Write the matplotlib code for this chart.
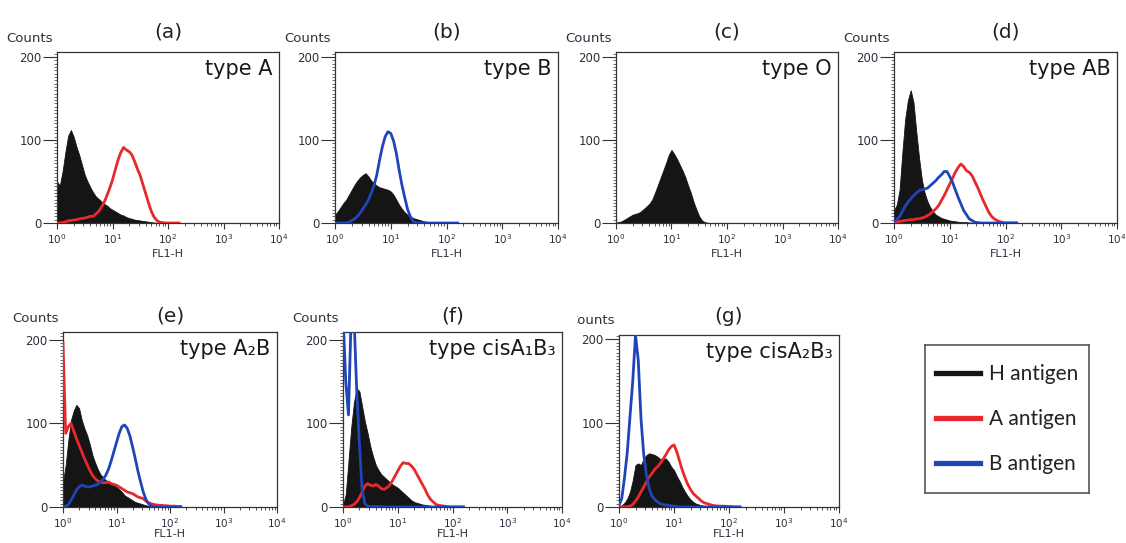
import numpy as np
import matplotlib
matplotlib.use("Agg")
from matplotlib import pyplot as plt
from matplotlib.ticker import LogLocator, MultipleLocator, NullFormatter
from matplotlib.lines import Line2D
from matplotlib.transforms import Bbox, TransformedBbox

# channel positions in decades (10^0 .. 10^2.2), 0.05 decade bins
log_ch = np.arange(0, 2.21, 0.05)

# ---- counts (one value per bin) ----
a_H = [50, 45, 62, 85, 105, 112, 104, 92, 82, 70,
       58, 50, 43, 37, 32, 29, 26, 23, 21, 18,
       16, 14, 12, 10, 9, 7, 6, 5, 4, 3.5,
       3, 2.5, 2, 1.5, 1, 0.5, 0.3, 0, 0, 0,
       0, 0, 0, 0, 0]
a_A = [0, 0, 0.5, 1.5, 2.5, 3, 3.5, 4, 5, 5.5,
       6, 7, 8, 8, 11, 14, 19, 25, 33, 42,
       52, 64, 76, 85, 91, 88, 86, 82, 74, 65,
       57, 46, 35, 24, 14, 7, 3, 1, 0.5, 0,
       0, 0, 0, 0, 0]

b_H = [10, 14, 19, 24, 28, 34, 40, 46, 51, 55,
       58, 60, 56, 51, 48, 45, 43, 42, 41, 40,
       38, 34, 28, 22, 17, 13, 10, 8, 6, 5,
       4, 3, 2, 1.5, 1, 0.5, 0.3, 0, 0, 0,
       0, 0, 0, 0, 0]
b_B = [0, 0, 0, 0, 0, 1, 3, 5, 8, 12,
       17, 22, 28, 36, 45, 58, 76, 92, 104, 110,
       108, 99, 84, 64, 46, 31, 17, 8, 2, 0.5,
       0, 0, 0, 0, 0, 0, 0, 0, 0, 0,
       0, 0, 0, 0, 0]

c_H = [0.5, 1, 2, 4, 6, 8, 10, 11, 12, 14,
       17, 20, 23, 28, 36, 45, 54, 63, 72, 82,
       88, 83, 77, 70, 63, 55, 45, 36, 25, 16,
       8, 3, 1, 0.3, 0, 0, 0, 0, 0, 0,
       0, 0, 0, 0, 0]

d_H = [15, 22, 40, 85, 125, 148, 160, 145, 110, 78,
       52, 36, 26, 19, 14, 10, 8, 6, 5, 4,
       3, 2.5, 2, 1.5, 1.2, 1, 1, 0.6, 0.4, 0,
       0, 0, 0, 0, 0, 0, 0, 0, 0, 0,
       0, 0, 0, 0, 0]
d_A = [0.5, 1, 2, 2.5, 3, 3.5, 4, 4, 5, 5,
       6, 7, 9, 11, 14, 17, 21, 27, 33, 40,
       47, 54, 61, 67, 71, 68, 63, 61, 57, 50,
       43, 35, 27, 20, 13, 8, 5, 3, 1.5, 0.5,
       0, 0, 0, 0, 0]
d_B = [2, 4, 8, 14, 20, 25, 29, 33, 36, 39,
       40, 41, 42, 45, 48, 51, 55, 58, 62, 62,
       56, 49, 40, 31, 23, 15, 10, 5, 3, 1,
       0.5, 0, 0, 0, 0, 0, 0, 0, 0, 0,
       0, 0, 0, 0, 0]

e_H = [30, 50, 80, 104, 115, 122, 118, 104, 94, 86,
       75, 62, 53, 45, 39, 35, 32, 30, 28, 26,
       24, 21, 18, 14, 12, 10, 8, 6, 5, 4,
       3, 2, 1.5, 1, 0.5, 0, 0, 0, 0, 0,
       0, 0, 0, 0, 0]
e_A = [196, 88, 96, 100, 91, 82, 74, 66, 58, 51,
       44, 38, 34, 31, 30, 29, 29, 30, 28, 27,
       26, 24, 22, 20, 18, 17, 16, 14, 12, 11,
       10, 7, 5, 4, 3, 2.5, 2, 2, 1.5, 1.5,
       1, 1, 1, 0.5, 0.5]
e_B = [0, 1, 3, 8, 14, 20, 24, 26, 25, 24,
       24, 25, 26, 27, 30, 33, 38, 45, 55, 66,
       77, 88, 96, 98, 94, 85, 72, 58, 43, 30,
       18, 9, 4, 1.5, 0.5, 0, 0, 0, 0, 0,
       0, 0, 0, 0, 0]

f_H = [3, 15, 55, 95, 125, 142, 138, 120, 102, 88,
       72, 60, 50, 44, 39, 36, 33, 30, 27, 25,
       23, 20, 17, 14, 11, 8, 6, 5, 4, 3,
       2.5, 2, 1.5, 1.2, 1, 0.8, 0.5, 0, 0, 0,
       0, 0, 0, 0, 0]
f_A = [0, 0, 0.5, 1.5, 3, 6, 11, 18, 25, 28,
       26, 25, 27, 25, 22, 21, 23, 26, 31, 37,
       43, 49, 53, 52, 52, 49, 45, 39, 33, 27,
       21, 14, 9, 6, 3, 2, 1.5, 1, 0.5, 0,
       0, 0, 0, 0, 0]
f_B = [230, 150, 110, 230, 230, 140, 75, 20, 4, 1,
       0.5, 0.5, 0.5, 0.5, 0.5, 0, 0, 0, 0, 0,
       0, 0, 0, 0, 0, 0, 0, 0, 0, 0,
       0, 0, 0, 0, 0, 0, 0, 0, 0, 0,
       0, 0, 0, 0, 0]

g_H = [0, 2, 5, 10, 18, 32, 50, 52, 50, 58,
       62, 64, 63, 62, 60, 57, 57, 58, 54, 48,
       44, 37, 31, 24, 18, 13, 9, 6, 4, 3,
       2, 1.5, 1, 0.7, 0.3, 0, 0, 0, 0, 0,
       0, 0, 0, 0, 0]
g_A = [0, 0, 0, 0.5, 1, 3, 7, 12, 18, 24,
       30, 36, 40, 45, 48, 52, 57, 62, 68, 72,
       74, 66, 55, 44, 35, 27, 21, 16, 13, 10,
       7, 5, 4, 3, 2, 1.5, 1.2, 1, 1, 0.8,
       0.5, 0.3, 0, 0, 0]
g_B = [2, 10, 35, 65, 108, 150, 205, 175, 105, 62,
       38, 22, 13, 9, 6, 4, 3, 2.5, 2, 1.5,
       1, 0.5, 0, 0, 0, 0, 0, 0, 0, 0,
       0, 0, 0, 0, 0, 0, 0, 0, 0, 0,
       0, 0, 0, 0, 0]

panel_labels = ["(a)", "(b)", "(c)", "(d)", "(e)", "(f)", "(g)"]
type_labels = ["type A", "type B", "type O", "type AB",
               "type A\u2082B", "type cisA\u2081B\u2083", "type cisA\u2082B\u2083"]
H_series = [a_H, b_H, c_H, d_H, e_H, f_H, g_H]
A_series = [a_A, None, None, d_A, e_A, f_A, g_A]
B_series = [None, b_B, None, d_B, e_B, f_B, g_B]
legend_labels = ["H antigen", "A antigen", "B antigen"]

BLACK = "#151515"
RED = "#e8282c"
BLUE = "#1f45b8"
TXT = "#2e2e3e"

W, H = 1126, 543
# pixel boxes (left, right, top, bottom) and y-limit for each panel
boxes = [(57, 279, 52, 223), (335, 558, 52, 223), (616, 838, 52, 223),
         (894, 1117, 52, 223), (63, 277, 332, 507), (343, 562, 332, 507),
         (619, 839, 335, 507)]
ytops = [206, 206, 206, 206, 209, 209, 205]
title_gap = [20, 20, 20, 20, 16, 16, 19]
xlabel_gap = [31, 31, 31, 31, 27, 27, 27]

fig = plt.figure(figsize=(W / 100, H / 100), dpi=100)
fig.patch.set_facecolor("white")

x = 10 ** log_ch
for i in range(7):
    l, r, t, b = boxes[i]
    ax = fig.add_axes([l / W, (H - b) / H, (r - l) / W, (b - t) / H])
    ax.fill_between(x, 0, H_series[i], color=BLACK, lw=0.6, zorder=2)
    if A_series[i] is not None:
        ax.plot(x, A_series[i], color=RED, lw=2.0, zorder=3)
    if B_series[i] is not None:
        ax.plot(x, B_series[i], color=BLUE, lw=2.0, zorder=4)

    ax.set_xscale("log")
    ax.set_xlim(1, 1e4)
    ax.set_ylim(0, ytops[i])
    ax.xaxis.set_major_locator(LogLocator(base=10, numticks=10))
    ax.xaxis.set_minor_locator(LogLocator(base=10, subs=np.arange(2, 10), numticks=10))
    ax.xaxis.set_minor_formatter(NullFormatter())
    ax.set_yticks([0, 100, 200])
    ax.yaxis.set_minor_locator(MultipleLocator(4))
    ax.tick_params(axis="x", which="major", length=4, width=0.8, labelsize=7.5,
                   pad=2.5, colors="#333333", labelcolor=TXT)
    ax.tick_params(axis="x", which="minor", length=2.5, width=0.6, colors="#333333")
    ax.tick_params(axis="y", which="major", length=10, width=0.8, labelsize=8.5,
                   pad=1, colors="#333333", labelcolor=TXT)
    ax.tick_params(axis="y", which="minor", length=2.5, width=0.5, colors="#333333")
    for s in ax.spines.values():
        s.set_color("#333333")
        s.set_linewidth(0.9)

    hpx = b - t
    ct = ax.text(-0.018, 1 + 14 / hpx, "Counts", transform=ax.transAxes, ha="right",
                 va="center", fontsize=9.5, color=TXT)
    if i == 6:
        # in the source figure this label is cut off by the neighbouring panel
        ct.set_clip_box(TransformedBbox(Bbox([[577 / W, 0], [1, 1]]), fig.transFigure))
        ct.set_clip_on(True)
    ax.text(0.5, 1 + title_gap[i] / hpx, panel_labels[i], transform=ax.transAxes,
            ha="center", va="center", fontsize=14.5, color="#222222")
    ax.text(0.97, 1 - 17 / hpx, type_labels[i], transform=ax.transAxes, ha="right",
            va="center", fontsize=15, color="#1a1a1a", zorder=6)
    ax.text(0.5, -xlabel_gap[i] / hpx, "FL1-H", transform=ax.transAxes, ha="center",
            va="center", fontsize=8, color=TXT)

# legend box
lax = fig.add_axes([925 / W, (H - 493) / H, (1089 - 925) / W, (493 - 345) / H])
lax.set_xticks([])
lax.set_yticks([])
for s in lax.spines.values():
    s.set_color("#555555")
    s.set_linewidth(1.2)
handles = [Line2D([], [], color=c, lw=3.8) for c in (BLACK, RED, BLUE)]
lax.legend(handles, legend_labels, loc="center", frameon=False,
           prop={"family": ["Lato", "DejaVu Sans"], "size": 15},
           handlelength=2.1, handletextpad=0.45, labelspacing=1.2,
           labelcolor="#222222")

fig.savefig("out.png", dpi=100, facecolor="white")
